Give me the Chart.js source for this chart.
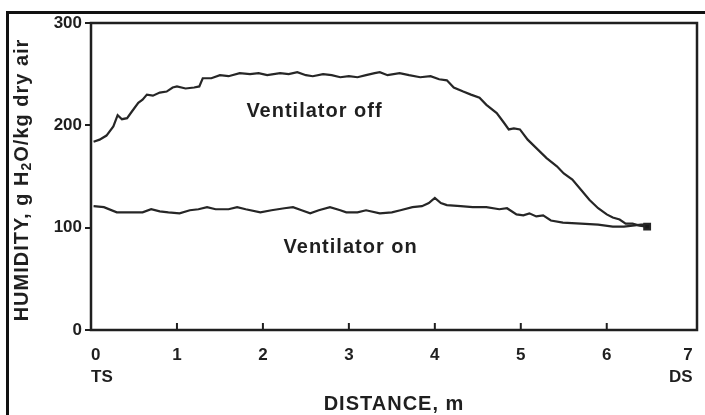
<!DOCTYPE html>
<html>
<head>
<meta charset="utf-8">
<script src="https://cdn.jsdelivr.net/npm/chart.js@4.4.1/dist/chart.umd.min.js"></script>
<style>
  html, body { margin: 0; padding: 0; background: #fff; }
</style>
</head>
<body>
<canvas id="humChart" width="705" height="415"></canvas>
<script>
  // Ventilator off - distance (m) and humidity (g H2O/kg dry air)
  const offDist = [0.03, 0.1, 0.18, 0.26, 0.31, 0.36, 0.42, 0.48, 0.55, 0.6, 0.65, 0.72, 0.8, 0.88, 0.95, 1.0, 1.1, 1.2, 1.26, 1.3,
    1.4, 1.5, 1.6, 1.73, 1.85, 1.95, 2.05, 2.2, 2.3, 2.4, 2.5, 2.58, 2.7, 2.8, 2.9, 3.0, 3.1, 3.2, 3.3, 3.36,
    3.45, 3.59, 3.7, 3.83, 3.95, 4.05, 4.14, 4.22, 4.33, 4.42, 4.52, 4.6, 4.72, 4.8, 4.86, 4.92, 4.99, 5.08, 5.19, 5.3,
    5.42, 5.5, 5.6, 5.7, 5.8, 5.9, 6.0, 6.07, 6.15, 6.22, 6.3, 6.38, 6.47];
  const offHum = [184, 186, 190, 199, 210, 206, 207, 214, 222, 225, 230, 229, 232, 233, 237, 238, 236, 237, 238, 246,
    246, 249, 248, 251, 250, 251, 249, 251, 250, 252, 249, 248, 250, 249, 247, 248, 247, 249, 251, 252,
    249, 251, 249, 247, 248, 245, 244, 237, 233, 230, 227, 220, 212, 203, 196, 197, 196, 186, 177, 168,
    160, 153, 147, 137, 127, 119, 113, 110, 108, 104, 104, 102, 101];

  // Ventilator on
  const onDist = [0.03, 0.15, 0.3, 0.45, 0.6, 0.7, 0.8, 0.9, 1.03, 1.15, 1.25, 1.35, 1.45, 1.6, 1.7, 1.8, 1.97, 2.1, 2.25, 2.35,
    2.45, 2.55, 2.65, 2.78, 2.9, 2.97, 3.1, 3.2, 3.36, 3.5, 3.6, 3.74, 3.85, 3.93, 4.0, 4.07, 4.14, 4.3, 4.44, 4.6,
    4.75, 4.84, 4.95, 5.03, 5.1, 5.18, 5.26, 5.35, 5.49, 5.7, 5.9, 6.07, 6.2, 6.3, 6.4, 6.47];
  const onHum = [121, 120, 115, 115, 115, 118, 116, 115, 114, 117, 118, 120, 118, 118, 120, 118, 115, 117, 119, 120,
    117, 114, 117, 120, 117, 115, 115, 117, 114, 115, 117, 120, 121, 124, 129, 124, 122, 121, 120, 120,
    118, 119, 113, 112, 114, 111, 112, 107, 105, 104, 103, 101, 101, 102, 103, 103];

  const xTickVals = [0, 1, 2, 3, 4, 5, 6, 7];
  const xEndNames = { 0: 'TS', 7: 'DS' };
  const seriesNames = ['Ventilator off', 'Ventilator on'];
  const xTitle = 'DISTANCE, m';
  const yTitleParts = ['HUMIDITY, g H', '2', 'O/kg dry air'];

  const ink = '#1f1f1f';
  const tickFont = { family: 'Liberation Sans', size: 17, weight: 'bold', lineHeight: 1.3 };

  const toPoints = (xs, ys) => xs.map((v, i) => ({ x: v, y: ys[i] }));

  // frame, inward x ticks, titles and curve labels
  const decor = {
    id: 'decor',
    afterDraw(chart) {
      const { ctx, chartArea: a, scales: { x, y } } = chart;
      ctx.save();
      ctx.strokeStyle = '#111';
      ctx.lineWidth = 3;
      ctx.beginPath();
      ctx.moveTo(7.5, 415);
      ctx.lineTo(7.5, 12.5);
      ctx.lineTo(705, 12.5);
      ctx.stroke();

      ctx.strokeStyle = ink;
      ctx.lineWidth = 2.5;
      ctx.strokeRect(a.left, a.top, a.right - a.left, a.bottom - a.top);

      ctx.lineWidth = 2;
      ctx.beginPath();
      x.ticks.forEach(t => {
        if (t.value > 0 && t.value < 7) {
          const px = x.getPixelForValue(t.value);
          ctx.moveTo(px, a.bottom);
          ctx.lineTo(px, a.bottom - 7);
        }
      });
      ctx.stroke();

      ctx.fillStyle = ink;
      ctx.textBaseline = 'middle';
      ctx.textAlign = 'center';
      ctx.font = 'bold 20px "Liberation Sans"';
      ctx.letterSpacing = '1px';
      ctx.fillText(seriesNames[0], x.getPixelForValue(2.6), y.getPixelForValue(214));
      ctx.fillText(seriesNames[1], x.getPixelForValue(3.02), y.getPixelForValue(81));
      ctx.fillText(xTitle, 394, 404);

      // rotated y title with subscript
      ctx.translate(22, 180);
      ctx.rotate(-Math.PI / 2);
      ctx.textAlign = 'left';
      const big = 'bold 20px "Liberation Sans"';
      const small = 'bold 14px "Liberation Sans"';
      ctx.font = big;
      const w0 = ctx.measureText(yTitleParts[0]).width;
      const w2 = ctx.measureText(yTitleParts[2]).width;
      ctx.font = small;
      const w1 = ctx.measureText(yTitleParts[1]).width;
      let cx = -(w0 + w1 + w2) / 2;
      ctx.font = big;
      ctx.fillText(yTitleParts[0], cx, 0);
      cx += w0;
      ctx.font = small;
      ctx.fillText(yTitleParts[1], cx, 5);
      cx += w1;
      ctx.font = big;
      ctx.fillText(yTitleParts[2], cx, 0);
      ctx.restore();
    }
  };

  const ctx = document.getElementById('humChart');
  // eslint-disable-next-line no-unused-vars
  const humChart = new Chart(ctx, {
    type: 'line',
    data: {
      datasets: [{
        label: seriesNames[0],
        data: toPoints(offDist, offHum),
        borderColor: '#262626',
        borderWidth: 2.2,
        backgroundColor: '#1a1a1a',
        pointStyle: 'rect',
        pointRadius: c => (c.dataIndex === offDist.length - 1 ? 4 : 0),
        tension: 0
      }, {
        label: seriesNames[1],
        data: toPoints(onDist, onHum),
        borderColor: '#262626',
        borderWidth: 2.2,
        pointRadius: 0,
        tension: 0
      }]
    },
    options: {
      responsive: false,
      animation: false,
      layout: { padding: { left: 0, top: 23, right: 8, bottom: 0 } },
      plugins: {
        legend: { display: false },
        tooltip: { enabled: false }
      },
      scales: {
        x: {
          type: 'linear',
          min: 0,
          max: 7.05,
          afterBuildTicks: s => { s.ticks = xTickVals.map(v => ({ value: v })); },
          afterFit: s => { s.height = 85; s.paddingLeft = 0; s.paddingRight = 0; },
          border: { display: false },
          grid: { display: true, drawOnChartArea: false, drawTicks: false },
          ticks: {
            align: 'inner',
            padding: 14,
            color: ink,
            font: tickFont,
            maxRotation: 0,
            callback: v => (xEndNames[v] ? [String(v), xEndNames[v]] : String(v))
          }
        },
        y: {
          min: 0,
          max: 300,
          afterFit: s => { s.width = 91; s.paddingTop = 0; s.paddingBottom = 0; },
          border: { display: false },
          grid: { drawOnChartArea: false, drawTicks: true, tickLength: 6, color: ink, lineWidth: 2 },
          ticks: { stepSize: 100, padding: 3, color: ink, font: tickFont }
        }
      }
    },
    plugins: [decor]
  });
</script>
</body>
</html>
